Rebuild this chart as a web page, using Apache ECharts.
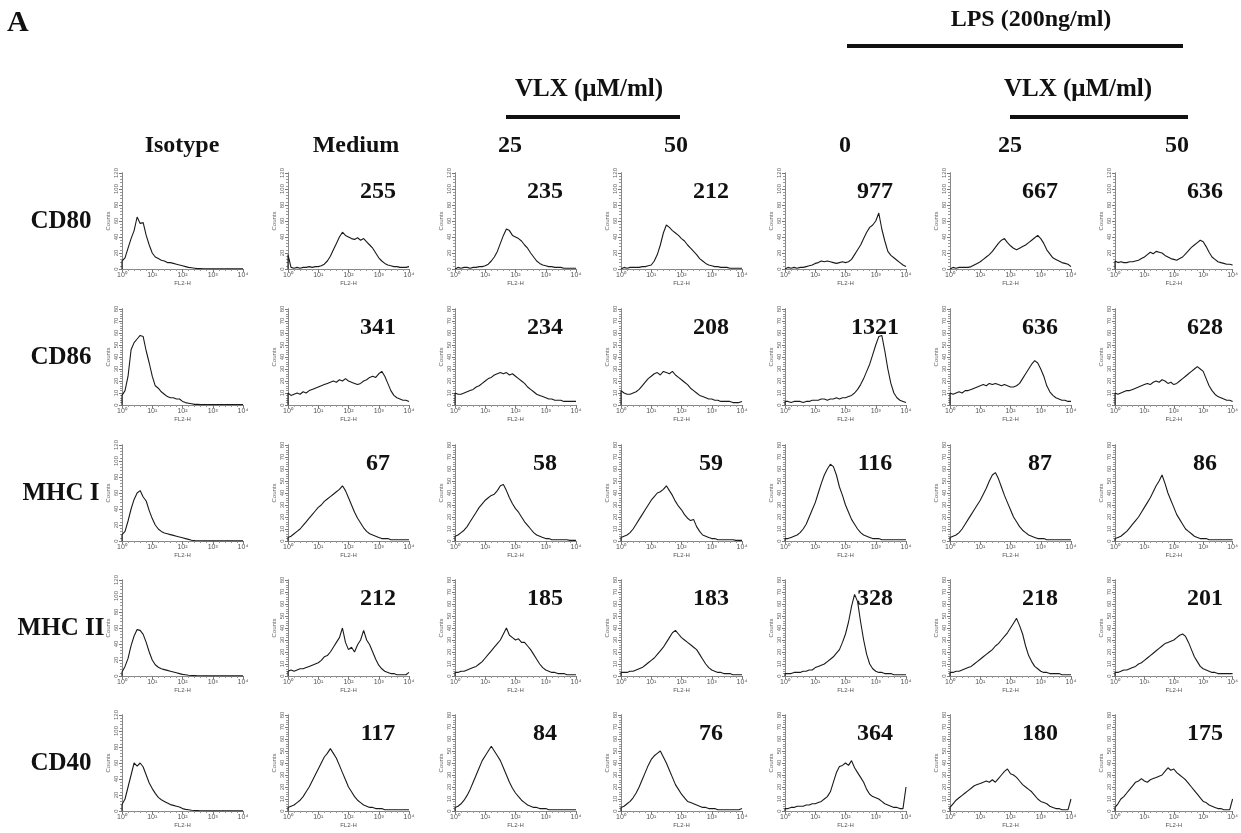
<!DOCTYPE html>
<html><head><meta charset="utf-8">
<script src="https://cdn.jsdelivr.net/npm/echarts@6/dist/echarts.min.js"></script>
<style>html,body{margin:0;padding:0;background:#fff}#c{width:1241px;height:833px}</style>
</head><body><div id="c"></div>
<script>
// ---------- DATA ----------
const xExp = [0,0.1,0.2,0.3,0.4,0.5,0.6,0.7,0.8,0.9,1,1.1,1.2,1.3,1.4,1.5,1.6,1.7,1.8,1.9,2,2.1,2.2,2.3,2.4,2.5,2.6,2.7,2.8,2.9,3,3.1,3.2,3.3,3.4,3.5,3.6,3.7,3.8,3.9,4];
const xTickLabels = ['10\u2070','10\u00b9','10\u00b2','10\u00b3','10\u2074'];
const rowLabels = ['CD80','CD86','MHC I','MHC II','CD40'];
const colHeaders = ['Isotype','Medium','25','50','0','25','50'];
const mfiValues = [
  [null,255,235,212,977,667,636],
  [null,341,234,208,1321,636,628],
  [null,67,58,59,116,87,86],
  [null,212,185,183,328,218,201],
  [null,117,84,76,364,180,175]
];
const yMaxByPanel = [
  [120,120,120,120,120,120,120],
  [80,80,80,80,80,80,80],
  [120,80,80,80,80,80,80],
  [120,80,80,80,80,80,80],
  [120,80,80,80,80,80,80]
];

// CD80
const cd80_iso   = [10,14,26,38,48,65,57,58,42,30, 20,15,13,11,10,8,8,7,6,5, 4,3,2,1.5,1,0.5,0.5,0.3,0.2,0.2, 0.2,0.2,0.2,0.2,0.2,0.2,0.2,0.2,0.2,0.2, 0.2];
const cd80_med   = [18,2,1,2,1,2,2,3,2,3, 3,4,6,10,16,24,32,40,46,42, 40,38,37,39,36,38,34,30,26,20, 14,10,7,5,4,3,3,2,2,2, 3];
const cd80_25    = [2,2,1,2,2,1,2,2,3,3, 4,6,10,15,22,32,42,50,48,42, 40,38,35,30,26,20,15,10,7,5, 4,3,3,2,2,2,1,1,1,1, 1];
const cd80_50    = [2,2,1,2,2,2,2,3,3,4, 5,10,18,30,45,55,52,48,45,42, 38,35,30,26,22,18,13,10,7,5, 4,3,3,2,2,2,1,1,1,1, 1];
const cd80_lps0  = [2,2,1,2,1,2,2,3,4,5, 7,8,10,9,10,9,8,7,8,9, 8,9,12,18,24,30,38,46,52,55, 60,70,50,35,22,17,14,11,8,5, 3];
const cd80_lps25 = [2,2,1,2,2,2,2,3,5,7, 9,12,15,18,22,27,32,36,38,33, 29,26,24,26,28,30,33,36,39,42, 38,32,24,19,14,12,10,8,7,6, 3];
const cd80_lps50 = [10,8,9,8,8,9,9,10,11,13, 15,18,21,19,22,21,20,17,15,13, 12,11,13,15,19,23,27,30,33,36, 34,28,21,15,12,9,8,7,6,6, 5];
// CD86
const cd86_iso   = [8,12,24,46,52,55,58,57,45,35, 24,16,14,11,9,7,6,6,5,5, 3,2,1.5,1,0.5,0.5,0.3,0.3,0.3,0.3, 0.3,0.3,0.3,0.3,0.3,0.3,0.3,0.3,0.3,0.3, 0.3];
const cd86_med   = [10,8,9,10,9,11,10,12,13,14, 15,16,17,18,19,20,19,21,20,22, 20,19,18,17,18,20,21,23,24,23, 26,28,24,18,12,8,6,5,4,4, 3];
const cd86_25    = [10,9,9,10,11,12,13,15,16,18, 20,22,23,25,26,27,26,27,25,26, 24,22,20,18,15,13,11,9,8,7, 6,5,5,4,4,4,3,3,3,3, 3];
const cd86_50    = [12,10,9,9,10,11,13,16,19,22, 24,26,27,25,28,27,26,28,25,23, 21,19,17,14,12,10,8,7,6,5, 5,4,4,3,3,3,3,2,2,2, 3];
const cd86_lps0  = [3,3,2,3,3,3,2,3,3,4, 4,4,5,5,4,5,5,6,5,6, 6,7,8,10,13,17,22,28,34,42, 50,57,58,45,30,18,10,6,4,3, 2];
const cd86_lps25 = [10,9,10,11,10,12,12,13,14,15, 16,17,16,18,17,18,17,16,17,16, 15,15,16,18,22,26,30,34,37,35, 30,24,16,11,8,6,5,4,4,3, 3];
const cd86_lps50 = [10,9,10,11,12,12,13,14,15,16, 17,18,17,19,20,19,21,20,18,19, 17,18,20,22,24,26,28,30,32,30, 28,22,16,12,9,7,6,5,4,4, 3];
// MHC I
const mhc1_iso   = [8,12,25,40,52,60,63,55,50,38, 28,20,15,12,10,9,8,7,6,5, 4,3,2,1,0.5,0.3,0.3,0.2,0.2,0.2, 0.2,0.2,0.2,0.2,0.2,0.2,0.2,0.2,0.2,0.2, 0.2];
const mhc1_med   = [3,4,6,8,10,13,16,19,22,25, 28,30,33,35,37,39,41,43,46,42, 36,30,24,19,15,11,8,6,5,4, 3,2,2,2,1,1,1,1,1,1, 1];
const mhc1_25    = [4,5,7,9,12,16,20,24,28,31, 34,36,38,39,42,46,47,42,36,31, 27,24,20,16,13,10,7,5,4,3, 2,2,1,1,1,1,1,1,0.5,0.5, 0.5];
const mhc1_50    = [3,4,5,7,10,14,18,22,26,30, 34,37,40,41,43,46,42,38,33,29, 26,22,19,17,18,12,8,5,4,3, 2,2,1,1,1,1,1,1,0.5,0.5, 0.5];
const mhc1_lps0  = [2,2,3,4,5,7,10,14,20,26, 32,40,48,55,60,64,62,55,45,38, 30,24,18,14,10,7,5,4,3,2, 2,2,1,1,1,1,1,1,1,1, 1];
const mhc1_lps25 = [3,4,5,7,10,14,18,22,26,30, 34,39,44,50,55,57,52,45,38,32, 26,20,16,12,9,7,5,4,3,2, 2,2,1,1,1,1,1,1,1,1, 1];
const mhc1_lps50 = [2,3,4,6,8,11,14,17,20,24, 28,32,36,41,46,50,55,48,40,34, 28,22,18,14,10,8,6,4,3,2, 2,2,1,1,1,1,1,1,1,1, 1];
// MHC II
const mhc2_iso   = [5,12,22,38,50,58,57,52,42,30, 20,14,11,9,8,7,6,5,4,3, 2,1.5,1,0.7,0.5,0.3,0.3,0.2,0.2,0.2, 0.2,0.2,0.2,0.2,0.2,0.2,0.2,0.2,0.2,0.2, 0.2];
const mhc2_med   = [4,5,4,5,6,6,7,8,9,10, 11,13,16,17,20,24,28,32,40,28, 22,24,20,26,30,38,30,26,20,14, 9,6,4,3,2,2,1,1,1,1, 3];
const mhc2_25    = [3,3,4,4,5,6,7,8,10,12, 15,18,21,24,27,30,35,40,34,32, 30,31,28,28,25,22,18,14,10,7, 5,4,3,3,2,2,2,1,1,1, 1];
const mhc2_50    = [3,3,3,4,4,5,6,7,9,11, 13,15,18,21,24,28,32,36,38,35, 32,30,28,26,24,22,18,14,10,7, 5,4,3,3,2,2,2,1,1,1, 1];
const mhc2_lps0  = [2,2,2,3,3,3,4,4,5,5, 7,8,9,10,12,14,16,19,22,28, 35,45,58,68,62,45,30,18,10,6, 4,3,3,2,2,2,1,1,1,1, 1];
const mhc2_lps25 = [3,3,4,4,5,6,7,8,10,12, 14,16,18,20,22,25,27,30,33,36, 40,44,48,42,35,25,17,12,8,6, 4,3,3,2,2,2,2,1,1,1, 1];
const mhc2_lps50 = [3,3,4,5,5,6,7,8,10,11, 13,15,17,19,21,23,25,27,28,29, 30,32,34,35,33,28,22,16,12,8, 6,5,4,3,3,2,2,2,2,2, 2];
// CD40
const cd40_iso   = [8,15,30,45,60,56,60,55,45,35, 28,22,17,14,12,10,8,7,6,5, 3,2,1.5,1,0.7,0.5,0.3,0.3,0.2,0.2, 0.2,0.2,0.2,0.2,0.2,0.2,0.2,0.2,0.2,0.2, 0.2];
const cd40_med   = [3,4,5,7,9,12,16,20,25,30, 35,40,45,48,52,48,44,38,32,26, 20,16,12,9,7,5,4,3,3,2, 2,2,1,1,1,1,1,1,1,1, 1];
const cd40_25    = [3,4,6,9,13,18,24,30,36,42, 46,50,54,50,46,42,36,30,24,19, 15,12,9,7,5,4,3,3,2,2, 2,1,1,1,1,1,1,1,1,1, 1];
const cd40_50    = [3,4,6,8,11,15,20,26,32,38, 43,46,48,50,45,40,34,28,22,18, 14,11,8,7,6,5,4,3,3,2, 2,2,1,1,1,1,1,1,1,1, 2];
const cd40_lps0  = [2,2,3,3,4,4,4,5,5,6, 6,7,8,10,12,16,24,32,37,38, 40,38,42,36,32,28,24,18,14,12, 11,10,8,6,5,4,3,3,2,2, 20];
const cd40_lps25 = [3,6,9,11,13,15,17,19,21,22, 23,24,25,24,26,24,27,30,33,35, 31,30,28,25,22,20,18,16,13,10, 8,7,6,4,3,2,2,1,1,1, 10];
const cd40_lps50 = [3,6,10,12,15,18,21,24,25,27, 25,24,26,27,28,29,30,33,36,34, 35,32,30,28,26,23,20,17,14,11, 8,7,5,4,3,2,2,1,1,1, 10];

const histograms = [
  [cd80_iso, cd80_med, cd80_25, cd80_50, cd80_lps0, cd80_lps25, cd80_lps50],
  [cd86_iso, cd86_med, cd86_25, cd86_50, cd86_lps0, cd86_lps25, cd86_lps50],
  [mhc1_iso, mhc1_med, mhc1_25, mhc1_50, mhc1_lps0, mhc1_lps25, mhc1_lps50],
  [mhc2_iso, mhc2_med, mhc2_25, mhc2_50, mhc2_lps0, mhc2_lps25, mhc2_lps50],
  [cd40_iso, cd40_med, cd40_25, cd40_50, cd40_lps0, cd40_lps25, cd40_lps50]
];

// ---------- LAYOUT ----------
const colLeft = [122, 288, 455, 621, 785, 950, 1115];
const rowTop = [173, 309, 445, 580, 715];
const PW = 121, PH = 96;
const serif = "'Liberation Serif','Times New Roman',serif";
const sans = "'Liberation Sans',Arial,sans-serif";

const grids = [], xAxes = [], yAxes = [], series = [], graphics = [];
let k = 0;
for (let r = 0; r < 5; r++) {
  for (let c = 0; c < 7; c++) {
    const ymax = yMaxByPanel[r][c];
    const yint = ymax === 120 ? 20 : 10;
    grids.push({left: colLeft[c], top: rowTop[r], width: PW, height: PH, show: false});
    xAxes.push({
      type: 'value', gridIndex: k, min: 0, max: 4, interval: 1, position: 'bottom',
      axisLine: {show: true, lineStyle: {color: '#666', width: 1, type: [1, 1.5]}},
      axisTick: {show: true, length: 3, lineStyle: {color: '#777'}},
      minorTick: {show: true, splitNumber: 5, length: 2, lineStyle: {color: '#999'}},
      splitLine: {show: false},
      axisLabel: {fontSize: 7, color: '#555', fontFamily: sans, margin: 3,
        formatter: v => xTickLabels[Math.round(v)]},
      name: 'FL2-H', nameLocation: 'middle', nameGap: 11,
      nameTextStyle: {fontSize: 6, color: '#555', fontFamily: sans}
    });
    xAxes.push({
      type: 'value', gridIndex: k, min: 0, max: 4, position: 'top',
      axisLine: {show: true, lineStyle: {color: '#888', width: 1}},
      axisTick: {show: false}, axisLabel: {show: false}, splitLine: {show: false}
    });
    yAxes.push({
      type: 'value', gridIndex: k, min: 0, max: ymax, interval: yint, position: 'left',
      axisLine: {show: true, lineStyle: {color: '#666', width: 1, type: [1, 1.5]}},
      axisTick: {show: true, length: 3, lineStyle: {color: '#777'}},
      minorTick: {show: true, splitNumber: 5, length: 2, lineStyle: {color: '#999'}},
      splitLine: {show: false},
      axisLabel: {fontSize: 6, color: '#666', fontFamily: sans, rotate: 90, margin: 3},
      name: 'Counts', nameLocation: 'middle', nameGap: 11, nameRotate: 90,
      nameTextStyle: {fontSize: 6, color: '#666', fontFamily: sans}
    });
    yAxes.push({
      type: 'value', gridIndex: k, min: 0, max: ymax, position: 'right',
      axisLine: {show: true, lineStyle: {color: '#888', width: 1}},
      axisTick: {show: false}, axisLabel: {show: false}, splitLine: {show: false}
    });
    const ys = histograms[r][c];
    const data = [[xExp[0], 0]].concat(xExp.map((x, i) => [x, ys[i]]));
    series.push({
      type: 'line', xAxisIndex: 2 * k, yAxisIndex: 2 * k, data: data,
      showSymbol: false, symbol: 'none', silent: true, animation: false,
      lineStyle: {color: '#1a1a1a', width: 1.1}
    });
    const v = mfiValues[r][c];
    if (v !== null) {
      graphics.push({type: 'text', x: colLeft[c] + PW - 31, y: rowTop[r] + 19,
        style: {text: String(v), font: 'bold 24px ' + serif, fill: '#111',
          textAlign: 'center', textVerticalAlign: 'middle', align: 'center', verticalAlign: 'middle'}});
    }
    k++;
  }
  graphics.push({type: 'text', x: 61, y: rowTop[r] + 49,
    style: {text: rowLabels[r], font: 'bold 25px ' + serif, fill: '#111',
      textAlign: 'center', textVerticalAlign: 'middle', align: 'center', verticalAlign: 'middle'}});
}

const headerX = [182, 356, 510, 676, 845, 1010, 1177];
colHeaders.forEach((h, i) => {
  graphics.push({type: 'text', x: headerX[i], y: 146,
    style: {text: h, font: 'bold 24px ' + serif, fill: '#111',
      textAlign: 'center', textVerticalAlign: 'middle', align: 'center', verticalAlign: 'middle'}});
});
function txt(t, x, y, size, align) {
  graphics.push({type: 'text', x: x, y: y,
    style: {text: t, font: 'bold ' + size + 'px ' + serif, fill: '#111',
      textAlign: align, textVerticalAlign: 'middle', align: align, verticalAlign: 'middle'}});
}
function bar(x1, x2, y) {
  graphics.push({type: 'line', shape: {x1: x1, y1: y, x2: x2, y2: y},
    style: {stroke: '#111', lineWidth: 4}});
}
txt('A', 7, 23, 30, 'left');
txt('LPS (200ng/ml)', 1031, 20, 24, 'center');
bar(847, 1183, 46);
txt('VLX (\u03bcM/ml)', 589, 90, 25, 'center');
bar(506, 680, 117);
txt('VLX (\u03bcM/ml)', 1078, 90, 25, 'center');
bar(1010, 1188, 117);

const chart = echarts.init(document.getElementById('c'), null, {renderer: 'canvas'});
chart.setOption({
  animation: false,
  backgroundColor: '#fff',
  grid: grids, xAxis: xAxes, yAxis: yAxes, series: series,
  graphic: {elements: graphics}
});
</script></body></html>
